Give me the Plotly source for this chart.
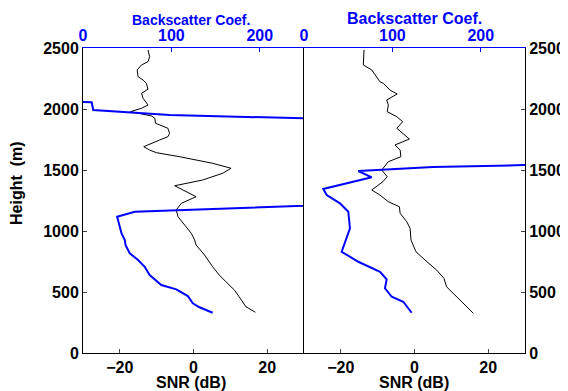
import plotly.graph_objects as go

# ---------------- data ----------------
# Left panel
left_snr_height = [334, 380, 461, 516, 584, 639, 707, 803, 885, 926, 981, 1035, 1117, 1172, 1227,
                   1281, 1371, 1418, 1473, 1514, 1555, 1609, 1642, 1664, 1691, 1746, 1773, 1801,
                   1842, 1883, 1924, 1943, 1978, 2006, 2033, 2088, 2129, 2162, 2211, 2238, 2265,
                   2320, 2361, 2388, 2429, 2484]
left_snr = [16.8, 14.2, 12.4, 11.1, 8.8, 7.0, 5.2, 3.0, 0.7, 0.3, -0.6, -2.0, -4.2, -4.7, -3.3,
            0.7, -5.1, 2.5, 7.9, 10.2, 5.2, -3.8, -10.1, -11.9, -13.5, -9.2, -6.95, -6.5,
            -6.95, -10.3, -10.5, -11.4, -17.1, -14.1, -12.35, -13.7, -14.1, -12.35, -12.8, -13.7, -15.05,
            -15.3, -14.1, -12.35, -11.9, -12.35]

left_bs_height = [330, 375, 407, 467, 522, 557, 639, 707, 762, 817, 885, 926, 981, 1035, 1117,
                  1158, 1290, 1600, 1863, 1951, 1992, 2055, 2064]
left_bs = [146.7, 131.8, 124.2, 118.6, 105.5, 88.6, 75.4, 69.8, 62.3, 52.9, 48.1, 47.3, 43.6, 41.7, 38.6,
           58.6, 582, 900, 582, 98, 11.6, 9.8, -20]

# Right panel
right_snr_height = [325, 407, 475, 543, 612, 680, 762, 830, 926, 1022, 1076, 1145, 1199, 1240, 1295,
                    1336, 1404, 1445, 1500, 1568, 1609, 1664, 1705, 1754, 1842, 1896, 1937, 1978,
                    2033, 2074, 2123, 2156, 2211, 2224, 2320, 2361, 2484]
right_snr = [16.0, 13.25, 11.0, 8.7, 8.0, 6.0, 2.85, 0.4, -0.95, -1.2, -2.1, -3.9, -4.1, -7.1, -9.4,
             -11.6, -8.6, -7.4, -8.9, -7.1, -3.7, -3.9, -5.3, -1.4, -4.8, -3.2, -4.8, -7.4,
             -7.1, -7.55, -4.7, -6.7, -8.5, -9.4, -11.6, -13.9, -13.7]

right_bs_height = [330, 420, 461, 530, 604, 666, 748, 830, 1022, 1158, 1227, 1295, 1344, 1440, 1492,
                   1525, 1540, 1562]
right_bs = [121.8, 112.3, 99.2, 91.6, 93.5, 86.0, 61.4, 42.6, 52.0, 50.1, 40.7, 25.7, 21.8, 76.6, 61.4,
            146, 248, 450]

snr_ticks = [-20, 0, 20]
bs_ticks = [0, 100, 200]
height_ticks = [0, 500, 1000, 1500, 2000, 2500]

# ---------------- figure ----------------
OFF = 8  # page body margin
W, H = 568 - OFF, 391 - OFF
BLUE = "rgb(0,0,255)"
FONT = "Liberation Sans, Arial, sans-serif"


def px(x):
    return (x - OFF) / W


def py(y):
    return 1 - (y - OFF) / H


xl = [px(83), px(304)]
xr = [px(304), px(525)]
yd = [py(353), py(48)]

fig = go.Figure()
fig.add_trace(go.Scatter(x=left_snr, y=left_snr_height, mode="lines",
                         line=dict(color="black", width=1), xaxis="x", yaxis="y"))
fig.add_trace(go.Scatter(x=left_bs, y=left_bs_height, mode="lines",
                         line=dict(color=BLUE, width=2), xaxis="x3", yaxis="y"))
fig.add_trace(go.Scatter(x=right_snr, y=right_snr_height, mode="lines",
                         line=dict(color="black", width=1), xaxis="x2", yaxis="y2"))
fig.add_trace(go.Scatter(x=right_bs, y=right_bs_height, mode="lines",
                         line=dict(color=BLUE, width=2), xaxis="x4", yaxis="y2"))

tf = dict(family=FONT, size=16, color="black", weight="bold")
tfb = dict(family=FONT, size=16, color=BLUE, weight="bold")

common_x = dict(range=[-30, 30], tickvals=snr_ticks, ticks="inside", ticklen=4,
                showline=True, linecolor="black", linewidth=1, showgrid=False, zeroline=False,
                tickfont=tf, automargin=False, fixedrange=True)
common_top = dict(range=[0, 250], tickvals=bs_ticks, ticks="inside", ticklen=4, tickcolor=BLUE,
                  showline=True, linecolor=BLUE, linewidth=1, showgrid=False, zeroline=False,
                  tickfont=tfb, side="top", automargin=False)
common_y = dict(range=[0, 2500], tickvals=height_ticks, ticks="inside", ticklen=4,
                showline=True, linecolor="black", linewidth=1, showgrid=False,
                zeroline=False, tickfont=tf, domain=yd, automargin=False)

fig.update_layout(
    width=W, height=H,
    margin=dict(l=0, r=0, t=0, b=0),
    paper_bgcolor="white", plot_bgcolor="white",
    showlegend=False,
    template="none",
    xaxis=dict(domain=xl, anchor="y", **common_x),
    xaxis2=dict(domain=xr, anchor="y2", **common_x),
    xaxis3=dict(overlaying="x", anchor="y", **common_top),
    xaxis4=dict(overlaying="x2", anchor="y2", **common_top),
    yaxis=dict(anchor="x", side="left", mirror=False, **common_y),
    yaxis2=dict(anchor="x2", side="right", mirror=True, **common_y),
)

ann = [
    dict(text="<b>Height\u00a0 (m)</b>", x=px(17), y=py(183), textangle=-90,
         font=dict(family=FONT, size=16, color="black")),
    dict(text="<b>SNR (dB)</b>", x=px(191), y=py(382),
         font=dict(family=FONT, size=16, color="black")),
    dict(text="<b>SNR (dB)</b>", x=px(414), y=py(382),
         font=dict(family=FONT, size=16, color="black")),
    dict(text="<b>Backscatter Coef.</b>", x=px(191), y=py(20),
         font=dict(family=FONT, size=14, color=BLUE)),
    dict(text="<b>Backscatter Coef.</b>", x=px(414), y=py(18),
         font=dict(family=FONT, size=16, color=BLUE)),
]
for a in ann:
    a.update(xref="paper", yref="paper", showarrow=False, xanchor="center", yanchor="middle")
fig.update_layout(annotations=ann)

fig.write_html("out.html")
